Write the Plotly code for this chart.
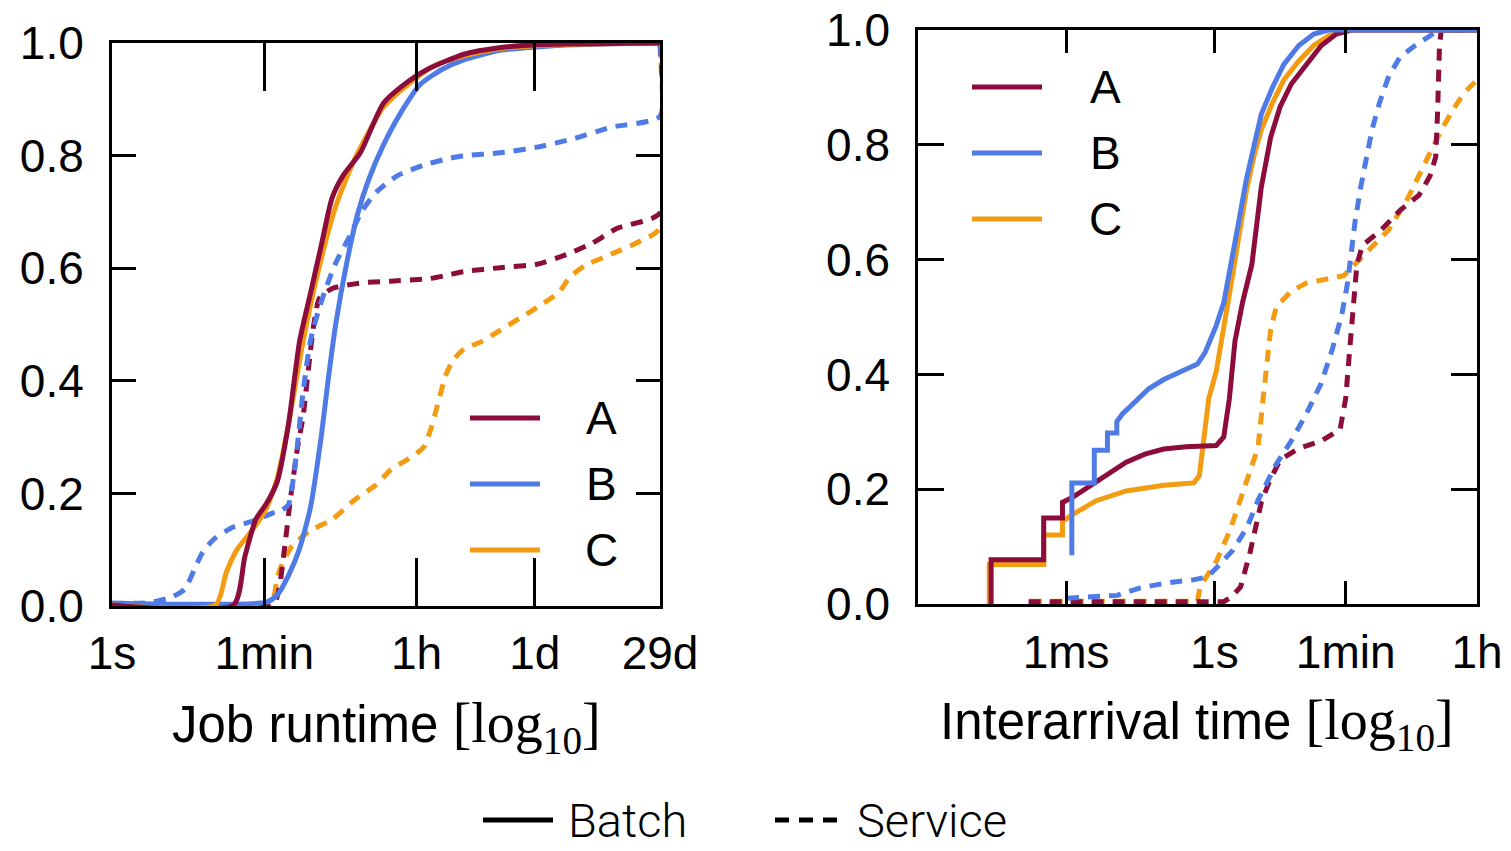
import plotly.graph_objects as go

# ---------------- data (x in log10 seconds, y = CDF) ----------------
# Left panel: Job runtime
rt_ticks_val = [0, 1.778, 3.556, 4.937, 6.399]
rt_ticks_txt = ["1s", "1min", "1h", "1d", "29d"]

rt_A_batch_x = [0, 1.42, 1.55, 1.68, 1.80, 1.93, 2.06, 2.19, 2.32, 2.44, 2.57, 2.70, 2.90, 3.17, 3.47, 3.68, 4.11, 4.54, 4.96, 6.40]
rt_A_batch_y = [0.002, 0.002, 0.087, 0.154, 0.181, 0.221, 0.322, 0.47, 0.557, 0.638, 0.725, 0.765, 0.805, 0.893, 0.933, 0.953, 0.98, 0.992, 0.997, 1.0]

rt_B_batch_x = [0, 1.805, 1.932, 2.06, 2.188, 2.316, 2.444, 2.53, 2.615, 2.743, 2.871, 2.999, 3.17, 3.383, 3.596, 3.852, 4.108, 4.535, 4.961, 5.388, 6.4]
rt_B_batch_y = [0.005, 0.007, 0.02, 0.054, 0.101, 0.174, 0.302, 0.409, 0.503, 0.611, 0.698, 0.758, 0.819, 0.879, 0.926, 0.953, 0.97, 0.987, 0.993, 0.997, 1.0]

rt_C_batch_x = [0, 1.21, 1.335, 1.463, 1.634, 1.805, 1.932, 2.06, 2.231, 2.402, 2.615, 2.828, 3.17, 3.511, 3.767, 4.108, 4.535, 5.175, 6.4]
rt_C_batch_y = [0.002, 0.002, 0.06, 0.101, 0.134, 0.174, 0.228, 0.322, 0.47, 0.591, 0.711, 0.792, 0.886, 0.933, 0.96, 0.977, 0.99, 0.997, 1.0]

rt_A_serv_x = [0, 1.88, 1.95, 2.018, 2.082, 2.167, 2.231, 2.295, 2.359, 2.423, 2.572, 2.914, 3.255, 3.682, 3.895, 4.108, 4.535, 4.961, 5.303, 5.601, 5.9, 6.399, 6.399]
rt_A_serv_y = [0.002, 0.002, 0.03, 0.107, 0.188, 0.282, 0.336, 0.423, 0.503, 0.547, 0.564, 0.574, 0.577, 0.581, 0.587, 0.594, 0.601, 0.607, 0.624, 0.644, 0.671, 0.698, 1.0]

rt_B_serv_x = [0, 0.443, 0.70, 0.85, 0.967, 1.06, 1.20, 1.41, 1.69, 1.876, 1.98, 2.06, 2.146, 2.231, 2.316, 2.402, 2.487, 2.615, 2.786, 2.914, 3.084, 3.34, 3.682, 3.938, 4.108, 4.535, 4.961, 5.388, 5.814, 6.399, 6.399]
rt_B_serv_y = [0.005, 0.006, 0.016, 0.03, 0.067, 0.096, 0.12, 0.14, 0.153, 0.165, 0.17, 0.18, 0.26, 0.38, 0.47, 0.52, 0.56, 0.61, 0.66, 0.70, 0.735, 0.765, 0.785, 0.795, 0.80, 0.805, 0.815, 0.83, 0.85, 0.87, 1.0]

rt_C_serv_x = [0, 1.847, 1.93, 1.975, 2.103, 2.316, 2.572, 2.828, 3.084, 3.255, 3.468, 3.639, 3.724, 3.81, 3.895, 3.98, 4.108, 4.321, 4.535, 4.748, 4.961, 5.217, 5.345, 5.516, 5.814, 6.113, 6.399, 6.399]
rt_C_serv_y = [0.002, 0.003, 0.05, 0.07, 0.107, 0.134, 0.154, 0.188, 0.215, 0.242, 0.262, 0.282, 0.315, 0.362, 0.409, 0.436, 0.456, 0.47, 0.49, 0.51, 0.53, 0.557, 0.584, 0.604, 0.624, 0.644, 0.671, 1.0]

# Right panel: Interarrival time
ia_ticks_val = [-2.007, 0, 1.778, 3.556]
ia_ticks_txt = ["1ms", "1s", "1min", "1h"]

ia_A_batch_x = [-3.023, -3.023, -2.311, -2.311, -2.057, -2.057, -1.905, -1.702, -1.448, -1.194, -0.94, -0.686, -0.381, 0.025, 0.127, 0.203, 0.279, 0.381, 0.508, 0.635, 0.762, 0.889, 1.041, 1.245, 1.448, 1.651, 1.854, 3.556]
ia_A_batch_y = [0, 0.077, 0.077, 0.15, 0.15, 0.177, 0.187, 0.204, 0.224, 0.247, 0.261, 0.27, 0.274, 0.276, 0.291, 0.358, 0.458, 0.525, 0.592, 0.726, 0.813, 0.866, 0.906, 0.94, 0.973, 0.993, 1.0, 1.0]

ia_B_batch_x = [-1.93, -1.93, -1.626, -1.626, -1.448, -1.448, -1.321, -1.321, -1.245, -1.092, -0.889, -0.686, -0.432, -0.229, -0.127, 0.025, 0.127, 0.229, 0.33, 0.432, 0.533, 0.635, 0.787, 0.94, 1.143, 1.346, 1.549, 3.556]
ia_B_batch_y = [0.085, 0.211, 0.211, 0.268, 0.268, 0.298, 0.298, 0.318, 0.331, 0.351, 0.375, 0.391, 0.405, 0.418, 0.438, 0.485, 0.525, 0.592, 0.666, 0.739, 0.799, 0.853, 0.9, 0.94, 0.973, 0.993, 1.0, 1.0]

ia_C_batch_x = [-3.048, -3.048, -2.311, -2.311, -2.057, -2.057, -1.905, -1.803, -1.6, -1.194, -0.686, -0.279, -0.203, -0.152, -0.076, 0.025, 0.127, 0.229, 0.33, 0.432, 0.533, 0.635, 0.787, 0.94, 1.143, 1.346, 1.549, 1.753, 3.556]
ia_C_batch_y = [0, 0.069, 0.069, 0.12, 0.12, 0.144, 0.157, 0.164, 0.18, 0.197, 0.207, 0.211, 0.224, 0.278, 0.358, 0.405, 0.478, 0.559, 0.639, 0.719, 0.779, 0.826, 0.873, 0.913, 0.946, 0.973, 0.99, 1.0, 1.0]

ia_A_serv_x = [-2.515, 0.127, 0.229, 0.356, 0.483, 0.559, 0.635, 0.737, 0.889, 1.143, 1.448, 1.702, 1.778, 1.829, 1.88, 1.93, 2.007, 2.261, 2.515, 2.769, 2.921, 2.997, 3.023, 3.048, 3.073, 3.556]
ia_A_serv_y = [0.004, 0.004, 0.012, 0.03, 0.09, 0.137, 0.177, 0.211, 0.251, 0.271, 0.284, 0.304, 0.358, 0.438, 0.518, 0.592, 0.625, 0.652, 0.686, 0.712, 0.746, 0.779, 0.86, 0.973, 1.0, 1.0]

ia_B_serv_x = [-1.995, -1.318, -1.006, -0.641, -0.289, -0.099, 0.037, 0.253, 0.443, 0.592, 0.838, 1.041, 1.245, 1.448, 1.6, 1.727, 1.803, 1.854, 1.905, 1.981, 2.057, 2.134, 2.235, 2.362, 2.515, 2.718, 2.921, 3.023, 3.556]
ia_B_serv_y = [0.01, 0.015, 0.028, 0.037, 0.042, 0.047, 0.064, 0.094, 0.134, 0.181, 0.244, 0.284, 0.331, 0.385, 0.445, 0.505, 0.559, 0.612, 0.666, 0.726, 0.779, 0.826, 0.873, 0.92, 0.953, 0.973, 0.99, 1.0, 1.0]

ia_C_serv_x = [-2.50, -0.229, -0.194, 0.037, 0.213, 0.348, 0.484, 0.592, 0.66, 0.711, 0.762, 0.838, 1.041, 1.245, 1.499, 1.753, 1.956, 2.362, 2.616, 2.87, 3.073, 3.226, 3.378, 3.556]
ia_C_serv_y = [0.005, 0.005, 0.03, 0.077, 0.129, 0.18, 0.228, 0.273, 0.358, 0.425, 0.478, 0.518, 0.545, 0.559, 0.565, 0.572, 0.599, 0.652, 0.706, 0.773, 0.826, 0.86, 0.89, 0.913]

y_ticks_val = [0, 0.2, 0.4, 0.6, 0.8, 1.0]
y_ticks_txt = ["0.0", "0.2", "0.4", "0.6", "0.8", "1.0"]

series_names = ["A", "B", "C"]
colors = {"A": "#8C0C3C", "B": "#4F7BE6", "C": "#F39C12"}

# ---------------- figure ----------------
W, H = 1511, 851
LW = 5
DASH = "12px,9px"
fig = go.Figure()

def add(x, y, name, dashed, xa, ya, smooth):
    line = dict(color=colors[name], width=LW, dash=DASH if dashed else "solid")
    if smooth:
        line.update(shape="spline", smoothing=0.6)
    fig.add_trace(go.Scatter(
        x=x, y=y, mode="lines", name=name, showlegend=False,
        line=line, xaxis=xa, yaxis=ya, hoverinfo="skip"))

# service (dashed) drawn under batch (solid)
add(rt_C_serv_x, rt_C_serv_y, "C", True, "x", "y", True)
add(rt_A_serv_x, rt_A_serv_y, "A", True, "x", "y", True)
add(rt_B_serv_x, rt_B_serv_y, "B", True, "x", "y", True)
add(rt_B_batch_x, rt_B_batch_y, "B", False, "x", "y", True)
add(rt_C_batch_x, rt_C_batch_y, "C", False, "x", "y", True)
add(rt_A_batch_x, rt_A_batch_y, "A", False, "x", "y", True)

add(ia_C_serv_x, ia_C_serv_y, "C", True, "x2", "y2", False)
add(ia_A_serv_x, ia_A_serv_y, "A", True, "x2", "y2", False)
add(ia_B_serv_x, ia_B_serv_y, "B", True, "x2", "y2", False)
add(ia_C_batch_x, ia_C_batch_y, "C", False, "x2", "y2", False)
add(ia_A_batch_x, ia_A_batch_y, "A", False, "x2", "y2", False)
add(ia_B_batch_x, ia_B_batch_y, "B", False, "x2", "y2", False)

TICKFONT = dict(family="Liberation Sans, Arial, sans-serif", size=46, color="black")

def px2x(px):
    return px / W

def px2y(py):
    return 1 - py / H

common = dict(showgrid=False, zeroline=False, showline=True, linecolor="black",
              mirror="ticks", ticks="inside", tickcolor="black", tickwidth=3,
              tickfont=TICKFONT, fixedrange=True, automargin=False)

fig.update_layout(
    template="none",
    width=W, height=H,
    margin=dict(l=0, r=0, t=0, b=0, pad=0, autoexpand=False),
    paper_bgcolor="white", plot_bgcolor="white",
    showlegend=False,
    xaxis=dict(domain=[px2x(112), px2x(660)], range=[0, 6.399], anchor="y",
               tickvals=rt_ticks_val, ticktext=rt_ticks_txt, ticklen=48,
               linewidth=3, ticklabelstandoff=5, **common),
    yaxis=dict(domain=[px2y(606), px2y(43)], range=[0, 1], anchor="x",
               tickvals=y_ticks_val, ticktext=y_ticks_txt, ticklen=24,
               linewidth=3, ticklabelstandoff=16, **common),
    xaxis2=dict(domain=[px2x(918), px2x(1477)], range=[-4.013, 3.556], anchor="y2",
                tickvals=ia_ticks_val, ticktext=ia_ticks_txt, ticklen=23,
                linewidth=2.5, ticklabelstandoff=6, **common),
    yaxis2=dict(domain=[px2y(604), px2y(30)], range=[0, 1], anchor="x2",
                tickvals=y_ticks_val, ticktext=y_ticks_txt, ticklen=26,
                linewidth=2.5, ticklabelstandoff=16, **common),
)

# ---------------- in-panel legends (A/B/C) ----------------
shapes = []
annotations = []
LEGFONT = dict(family="Liberation Sans, Arial, sans-serif", size=46, color="black")

def legend_block(x0, x1, ys, xtext):
    for name, yy in zip(series_names, ys):
        shapes.append(dict(type="line", xref="paper", yref="paper",
                           x0=px2x(x0), x1=px2x(x1), y0=px2y(yy), y1=px2y(yy),
                           line=dict(color=colors[name], width=LW)))
        annotations.append(dict(text=name, xref="paper", yref="paper",
                                x=px2x(xtext), y=px2y(yy), xanchor="center", yanchor="middle",
                                showarrow=False, font=LEGFONT))

legend_block(470, 540, [418, 484, 550], 601)
legend_block(972, 1042, [87, 153, 219], 1105)

# ---------------- bottom legend (Batch / Service) ----------------
BOTFONT = dict(family="Roboto, Liberation Sans, sans-serif", size=47, color="black", weight=300)
LEG_Y = 820
shapes.append(dict(type="line", xref="paper", yref="paper",
                   x0=px2x(483), x1=px2x(553), y0=px2y(LEG_Y), y1=px2y(LEG_Y),
                   line=dict(color="black", width=5)))
shapes.append(dict(type="line", xref="paper", yref="paper",
                   x0=px2x(775), x1=px2x(840), y0=px2y(LEG_Y), y1=px2y(LEG_Y),
                   line=dict(color="black", width=5, dash="14px,10px")))
annotations.append(dict(text="Batch", xref="paper", yref="paper", x=px2x(566), y=px2y(LEG_Y),
                        xanchor="left", yanchor="middle", showarrow=False, font=BOTFONT))
annotations.append(dict(text="Service", xref="paper", yref="paper", x=px2x(855), y=px2y(LEG_Y),
                        xanchor="left", yanchor="middle", showarrow=False, font=BOTFONT))

# ---------------- axis titles ----------------
TITLEFONT = dict(family="Liberation Sans, Arial, sans-serif", size=51, color="black")
LOG = "<span style='font-family:Liberation Serif;font-size:56px'>[log<sub>10</sub>]</span>"
annotations.append(dict(text="Job runtime " + LOG, xref="paper", yref="paper",
                        x=px2x(386), y=px2y(727), xanchor="center", yanchor="middle",
                        showarrow=False, font=TITLEFONT))
annotations.append(dict(text="Interarrival time " + LOG, xref="paper", yref="paper",
                        x=px2x(1197), y=px2y(724), xanchor="center", yanchor="middle",
                        showarrow=False, font=TITLEFONT))

fig.update_layout(shapes=shapes, annotations=annotations)

fig.write_html("out.html")
